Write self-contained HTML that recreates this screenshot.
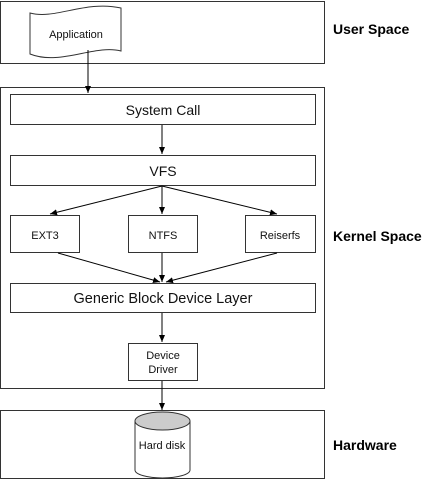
<!DOCTYPE html>
<html><head><style>body{margin:0;background:#fff}</style></head><body>
<svg width="425" height="480" xmlns="http://www.w3.org/2000/svg" font-family="Liberation Sans, Arial, sans-serif">
<defs><marker id="a" markerWidth="8" markerHeight="8" refX="7" refY="4" orient="auto" markerUnits="userSpaceOnUse"><path d="M0,1 L7,4 L0,7 z" fill="#000"/></marker></defs>
<g fill="#fff" stroke="#333" stroke-width="1">
<rect x="0.5" y="1.5" width="324" height="62"/>
<rect x="0.5" y="87.5" width="324" height="301"/>
<rect x="0.5" y="410.5" width="324" height="68"/>
<path d="M30,13 C55,20 85,0 121,8 L121,51 C95,44 60,66 30,54 Z"/>
<rect x="10.5" y="94.5" width="305" height="30"/>
<rect x="10.5" y="155.5" width="305" height="30"/>
<rect x="10.5" y="215.5" width="69" height="37"/>
<rect x="128.5" y="215.5" width="69" height="37"/>
<rect x="245.5" y="215.5" width="70" height="37"/>
<rect x="10.5" y="283.5" width="305" height="29"/>
<rect x="128.5" y="343.5" width="69" height="37"/>
<path d="M135,421 L135,470 A27.5,8 0 0 0 190,470 L190,421"/>
<ellipse cx="162.5" cy="421" rx="27.5" ry="9" fill="#ccc"/>
</g>
<g stroke="#000" stroke-width="1" fill="none" marker-end="url(#a)">
<line x1="88" y1="50" x2="88" y2="93"/>
<line x1="162" y1="125" x2="162" y2="154"/>
<line x1="162" y1="186" x2="50" y2="214"/>
<line x1="162" y1="186" x2="162" y2="214"/>
<line x1="162" y1="186" x2="277" y2="214"/>
<line x1="58" y1="253" x2="160" y2="282"/>
<line x1="162" y1="253" x2="162" y2="282"/>
<line x1="277" y1="253" x2="166" y2="282"/>
<line x1="162" y1="313" x2="162" y2="342"/>
<line x1="162" y1="381" x2="162" y2="410"/>
</g>
<g text-anchor="middle" fill="#111">
<text x="76" y="38" font-size="11">Application</text>
<text x="163" y="115" font-size="14">System Call</text>
<text x="163" y="176" font-size="14">VFS</text>
<text x="45" y="239" font-size="11">EXT3</text>
<text x="163" y="239" font-size="11">NTFS</text>
<text x="280" y="239" font-size="11">Reiserfs</text>
<text x="163" y="303" font-size="14.5">Generic Block Device Layer</text>
<text x="163" y="359" font-size="11">Device</text>
<text x="163" y="373" font-size="11">Driver</text>
<text x="162" y="449" font-size="11">Hard disk</text>
</g>
<g font-weight="bold" font-size="14" fill="#000">
<text x="333" y="34">User Space</text>
<text x="333" y="241">Kernel Space</text>
<text x="333" y="450">Hardware</text>
</g>
</svg>
</body></html>
